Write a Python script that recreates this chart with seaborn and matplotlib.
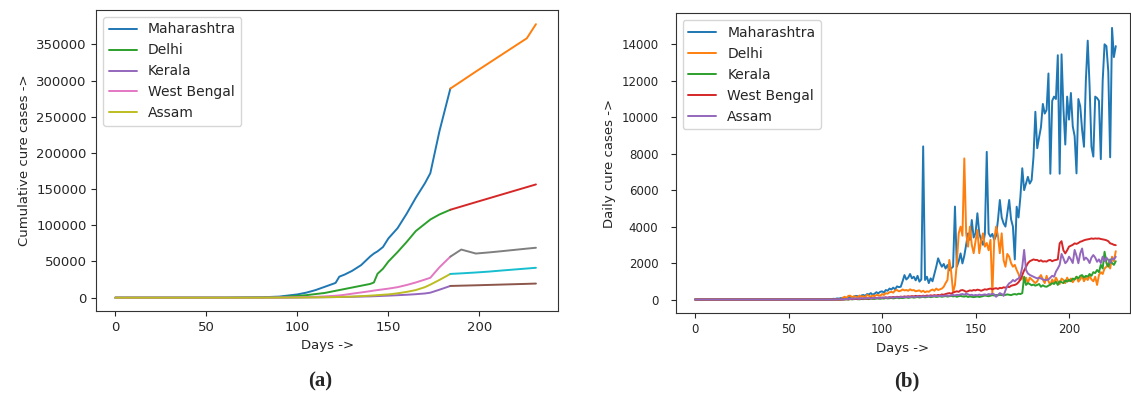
import matplotlib
matplotlib.use("Agg")
import matplotlib.pyplot as plt
import seaborn as sns

states = ["Maharashtra", "Delhi", "Kerala", "West Bengal", "Assam"]

# ---- (a) cumulative cured cases ----
cum_days = [0, 20, 40, 60, 80, 90, 100, 105, 110, 115, 120, 121, 123, 126, 130,
            135, 140, 142, 144, 147, 150, 155, 160, 165, 170, 173, 178, 184,
            190, 198, 205, 212, 219, 226, 231]
split_day = 184

cum_maha = [0, 0, 0, 0, 500, 1500, 4500, 7000, 10500, 15000, 19500, 20500, 29000, 32000, 37000,
            45000, 57000, 61000, 64000, 70000, 82000, 96000, 116000, 138000, 158000, 172000, 230000, 289000,
            299000, 312500, 324000, 335500, 347000, 358500, 378000]
cum_delhi = [0, 0, 0, 0, 300, 800, 2500, 3500, 5000, 6500, 9000, 9500, 10500, 12000, 14000,
             16500, 19000, 21000, 33000, 40000, 50000, 63000, 77000, 92000, 102000, 108000, 115000, 121500,
             126000, 132000, 137200, 142400, 147600, 152800, 156500]
cum_kerala = [0, 0, 0, 0, 0, 0, 300, 400, 500, 650, 800, 850, 900, 1000, 1200,
              1500, 1800, 2000, 2200, 2500, 2800, 3400, 4000, 4800, 5800, 6900, 11000, 16200,
              16600, 17100, 17600, 18100, 18600, 19100, 19500]
cum_wb = [0, 0, 0, 0, 0, 200, 500, 800, 1200, 1800, 2500, 2700, 3100, 4000, 5500,
          7200, 9000, 9800, 10500, 11500, 12500, 14500, 17500, 21000, 25000, 27500, 42000, 56700,
          66500, 61000, 62500, 64200, 66000, 67800, 69000]
cum_assam = [0, 0, 0, 0, 0, 100, 200, 300, 400, 600, 800, 850, 950, 1200, 1500,
             2100, 2800, 3100, 3500, 4000, 4500, 6000, 8000, 10500, 14500, 18000, 24500, 32800,
             33600, 34800, 36000, 37500, 38900, 40300, 41300]
cum_series = [cum_maha, cum_delhi, cum_kerala, cum_wb, cum_assam]

# ---- (b) daily cured cases: day 0, then days 70..225 ----
daily_days = [0] + list(range(70, 226))

daily_maha = [0,
    0, 0, 0, 20, 40, 30, 60, 50, 80, 70,
    100, 90, 120, 150, 110, 160, 200, 180, 150, 220,
    250, 200, 300, 280, 350, 260, 320, 400, 340, 420,
    450, 380, 520, 480, 600, 550, 650, 560, 720, 680,
    700, 1000, 1340, 1100, 1200, 1400, 1160, 1250, 1050, 1300,
    980, 1100, 8400, 1070, 1250, 900, 1160, 1000, 1400, 1800,
    2260, 2000, 1800, 1950, 1700, 1890, 1600, 1710, 1800, 5100,
    1800, 2100, 2530, 1980, 2400, 3000, 3630, 3270, 4360, 3400,
    3630, 4730, 3630, 3270, 3000, 3600, 8100, 3630, 3450, 3600,
    3270, 3500, 4360, 5460, 4500, 4180, 4000, 4730, 5460, 4400,
    4000, 2200, 5090, 4500, 5640, 7200, 6000, 6360, 6730, 6360,
    6550, 7830, 10300, 8300, 8900, 9460, 10730, 10200, 10400, 12400,
    6900, 10900, 11130, 11000, 13400, 6900, 13450, 10500, 8500, 11130,
    9870, 11330, 9500, 8960, 6920, 11000, 10600, 9300, 8380, 12000,
    14200, 11700, 8380, 7840, 11130, 11050, 10900, 7700, 12000, 14000,
    13900, 12500, 7800, 14900, 13300, 13900]
daily_delhi = [0,
    0, 0, 0, 0, 0, 0, 0, 0, 0, 100,
    150, 80, 200, 210, 120, 180, 150, 100, 220, 150,
    180, 130, 250, 200, 160, 220, 180, 250, 240, 200,
    300, 250, 350, 320, 400, 420, 380, 500, 520, 450,
    480, 550, 500, 520, 480, 560, 500, 520, 450, 480,
    500, 420, 480, 400, 450, 420, 500, 550, 480, 600,
    520, 560, 600, 700, 900, 1070, 2170, 1500, 400, 800,
    2000, 3630, 4000, 3500, 7740, 3630, 2900, 4000, 3000, 2540,
    3200, 3810, 2540, 3200, 3630, 2900, 3100, 2700, 3270, 300,
    3270, 4000, 3500, 2540, 3630, 2170, 1800, 2500, 2350, 2000,
    1800, 1900, 1620, 1400, 1070, 1250, 1000, 1200, 900, 1200,
    1100, 1000, 900, 1000, 1200, 1340, 1100, 900, 1300, 1000,
    800, 1100, 900, 1200, 1000, 850, 1150, 1070, 900, 1200,
    1000, 1150, 950, 1100, 1250, 980, 1100, 1300, 1000, 1200,
    1070, 1300, 1100, 1000, 1250, 800, 1340, 1500, 1400, 1700,
    1800, 2000, 1700, 2350, 2100, 2650]
daily_kerala = [0,
    0, 0, 0, 0, 0, 0, 0, 0, 0, 0,
    0, 10, 0, 20, 10, 20, 30, 20, 10, 30,
    20, 40, 30, 20, 50, 40, 30, 60, 50, 40,
    60, 50, 80, 60, 70, 90, 60, 80, 100, 70,
    90, 80, 100, 120, 90, 110, 130, 100, 120, 140,
    110, 130, 150, 120, 140, 160, 130, 150, 170, 140,
    160, 180, 150, 170, 190, 160, 180, 200, 170, 190,
    150, 180, 200, 170, 160, 190, 140, 170, 150, 130,
    150, 170, 140, 160, 190, 220, 200, 180, 210, 240,
    220, 250, 230, 260, 240, 270, 250, 280, 260, 240,
    280, 300, 270, 320, 300, 350, 1250, 800, 900, 850,
    780, 820, 760, 800, 850, 700, 780, 720, 700, 760,
    820, 900, 850, 980, 800, 1000, 950, 900, 1050, 980,
    1070, 1000, 1150, 1100, 1250, 1150, 1300, 1340, 1200, 1300,
    1250, 1400, 1300, 1500, 1450, 1620, 1500, 1900, 1700, 2620,
    2000, 1800, 2200, 2000, 1900, 2100]
daily_wb = [0,
    0, 0, 0, 0, 0, 0, 0, 0, 0, 0,
    10, 20, 10, 30, 20, 40, 30, 20, 50, 40,
    60, 40, 70, 50, 80, 60, 90, 70, 100, 80,
    110, 90, 120, 100, 130, 110, 140, 120, 150, 130,
    160, 140, 170, 150, 180, 160, 190, 170, 200, 180,
    200, 180, 210, 190, 220, 200, 230, 210, 240, 220,
    250, 230, 280, 260, 300, 330, 350, 320, 380, 420,
    450, 420, 500, 520, 480, 420, 460, 500, 480, 520,
    500, 540, 520, 480, 520, 560, 540, 580, 600, 560,
    600, 620, 580, 640, 620, 670, 650, 700, 680, 750,
    780, 800, 850, 950, 1100, 1340, 1600, 1800, 1990, 2100,
    2150, 2200, 2170, 2170, 2100, 2150, 2080, 2100, 2080, 2150,
    2170, 2100, 2150, 2170, 2200, 3080, 3200, 2700, 2530, 2700,
    2900, 2950, 3000, 3080, 3050, 3100, 3170, 3200, 3250, 3280,
    3300, 3320, 3350, 3330, 3350, 3340, 3350, 3320, 3300, 3280,
    3250, 3200, 3080, 3050, 3000, 2980]
daily_assam = [0,
    0, 0, 0, 0, 0, 10, 0, 20, 10, 0,
    30, 20, 40, 30, 50, 40, 60, 50, 40, 70,
    60, 50, 80, 70, 60, 90, 80, 70, 100, 90,
    80, 110, 100, 90, 120, 110, 100, 130, 120, 110,
    140, 130, 120, 150, 140, 130, 160, 150, 140, 170,
    160, 150, 180, 170, 160, 190, 180, 170, 200, 190,
    180, 210, 200, 190, 220, 210, 200, 230, 250, 220,
    260, 240, 280, 300, 260, 320, 280, 240, 260, 220,
    250, 230, 270, 240, 260, 280, 250, 300, 270, 320,
    280, 150, 250, 350, 300, 200, 500, 750, 890, 950,
    1070, 1000, 1100, 1150, 1300, 1800, 2720, 1620, 1430, 1350,
    1300, 1250, 1200, 1160, 1200, 1150, 1100, 1070, 1070, 1100,
    1200, 1300, 1250, 1530, 1700, 1900, 2500, 2260, 1990, 2100,
    2350, 2200, 2000, 2720, 2400, 1990, 2530, 2800, 2170, 2300,
    2200, 2000, 2300, 2440, 2300, 2070, 2200, 2000, 2350, 2100,
    2300, 2170, 2000, 2250, 2200, 2350]
daily_series = [daily_maha, daily_delhi, daily_kerala, daily_wb, daily_assam]

sns.set_style("ticks")
plt.rcParams["font.family"] = ["DejaVu Sans"]
pal = sns.color_palette("tab10", 10)

fig = plt.figure(figsize=(11.31, 3.95), dpi=100)
ax1 = fig.add_axes([0.0852, 0.2127, 0.4083, 0.762])
ax2 = fig.add_axes([0.5975, 0.2068, 0.4016, 0.7595])

# left panel: each state drawn in two pieces, the second in the next cycle colour
k = cum_days.index(split_day)
for i, (name, vals) in enumerate(zip(states, cum_series)):
    sns.lineplot(x=cum_days[:k + 1], y=vals[:k + 1], ax=ax1, color=pal[2 * i],
                 linewidth=1.4, label=name)
    sns.lineplot(x=cum_days[k:], y=vals[k:], ax=ax1, color=pal[2 * i + 1],
                 linewidth=1.4)
ax1.set_xlim(-10.4, 243.2)
ax1.set_ylim(-18400, 397600)
ax1.set_xticks([0, 50, 100, 150, 200])
ax1.set_yticks(range(0, 350001, 50000))
ax1.set_xlabel("Days ->", fontsize=9.5)
ax1.set_ylabel("Cumulative cure cases ->", fontsize=9.5)
ax1.tick_params(labelsize=9.5)
ax1.legend(loc="upper left", fontsize=10, frameon=True)

for i, (name, vals) in enumerate(zip(states, daily_series)):
    sns.lineplot(x=daily_days, y=vals, ax=ax2, color=pal[i], linewidth=1.4, label=name)
ax2.set_xlim(-10.3, 232.6)
ax2.set_ylim(-757, 15700)
ax2.set_xticks([0, 50, 100, 150, 200])
ax2.set_yticks(range(0, 14001, 2000))
ax2.set_xlabel("Days ->", fontsize=9.5)
ax2.set_ylabel("Daily cure cases ->", fontsize=9.5)
ax2.tick_params(labelsize=8.5)
ax2.tick_params(axis="y", pad=9)
ax2.legend(loc="upper left", fontsize=10, frameon=True)

for a in (ax1, ax2):
    for s in a.spines.values():
        s.set_color("#333333")

fig.text(0.283, 0.035, "(a)", ha="center", va="center", fontsize=15,
         fontweight="bold", family="Liberation Serif")
fig.text(0.802, 0.035, "(b)", ha="center", va="center", fontsize=15,
         fontweight="bold", family="Liberation Serif")

fig.savefig("out.png", dpi=100)
